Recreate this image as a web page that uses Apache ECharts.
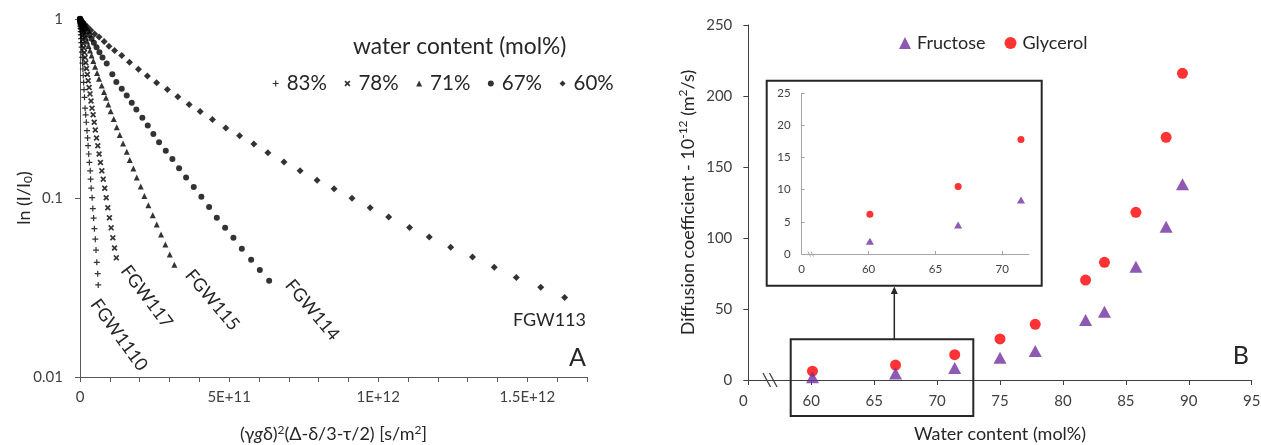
<!DOCTYPE html>
<html><head><meta charset="utf-8">
<script src="https://cdn.jsdelivr.net/npm/echarts@6/dist/echarts.min.js"></script>
<style>html,body{margin:0;padding:0;background:#fff}#c{width:1261px;height:445px}</style>
</head><body><div id="c"></div>
<script>
// ---------- Panel A data: x in units of 1E+11 s/m^2, y = I/I0 ----------
const seriesNamesA = ['83%', '78%', '71%', '67%', '60%'];
const sampleNamesA = ['FGW1110', 'FGW117', 'FGW115', 'FGW114', 'FGW113'];

const x83 = [0, 0.0004, 0.0015, 0.0034, 0.006, 0.0094, 0.0138, 0.0185, 0.0242, 0.0305, 0.0379, 0.0456, 0.0544, 0.0638, 0.0742, 0.0849, 0.0966, 0.109, 0.1225, 0.1362, 0.151, 0.171, 0.191, 0.211, 0.235, 0.255, 0.272, 0.292, 0.315, 0.342, 0.356, 0.376, 0.406, 0.430, 0.456, 0.483, 0.513, 0.537, 0.564, 0.594, 0.611];
const y83 = [1, 0.9975, 0.9900, 0.9779, 0.9607, 0.9398, 0.9124, 0.8841, 0.8507, 0.8161, 0.7770, 0.7379, 0.6960, 0.6535, 0.6101, 0.5672, 0.5256, 0.4836, 0.4421, 0.4032, 0.3650, 0.3176, 0.2916, 0.2649, 0.2379, 0.2165, 0.1960, 0.1761, 0.1580, 0.1418, 0.1274, 0.1134, 0.1004, 0.0873, 0.0772, 0.0674, 0.0589, 0.0512, 0.0437, 0.0378, 0.0327];

const x78 = [0, 0.0008, 0.0031, 0.0068, 0.0122, 0.0191, 0.0274, 0.0372, 0.0487, 0.0617, 0.0762, 0.0923, 0.1097, 0.1289, 0.1493, 0.1715, 0.195, 0.220, 0.247, 0.275, 0.305, 0.336, 0.369, 0.403, 0.440, 0.477, 0.513, 0.554, 0.597, 0.641, 0.685, 0.732, 0.779, 0.829, 0.879, 0.933, 0.987, 1.044, 1.101, 1.158, 1.218];
const y78 = [1, 0.9978, 0.9912, 0.9804, 0.9654, 0.9464, 0.9239, 0.8982, 0.8685, 0.8367, 0.8028, 0.7662, 0.7284, 0.6892, 0.6490, 0.6093, 0.5691, 0.5292, 0.4897, 0.4518, 0.4143, 0.3815, 0.3485, 0.3176, 0.2916, 0.2649, 0.2400, 0.2165, 0.1960, 0.1761, 0.1580, 0.1418, 0.1274, 0.1134, 0.1004, 0.0882, 0.0775, 0.0681, 0.0599, 0.0526, 0.0463];

const x71 = [0, 0.002, 0.008, 0.018, 0.032, 0.049, 0.071, 0.097, 0.127, 0.160, 0.198, 0.240, 0.285, 0.335, 0.388, 0.446, 0.507, 0.572, 0.638, 0.728, 0.805, 0.872, 0.950, 1.030, 1.131, 1.232, 1.332, 1.443, 1.567, 1.668, 1.789, 1.903, 2.037, 2.158, 2.292, 2.440, 2.574, 2.718, 2.862, 3.010, 3.164];
const y71 = [1, 0.9975, 0.9902, 0.9786, 0.9624, 0.9419, 0.9173, 0.8891, 0.8572, 0.8226, 0.7862, 0.7475, 0.7070, 0.6661, 0.6245, 0.5823, 0.5403, 0.4993, 0.4642, 0.4257, 0.3904, 0.3631, 0.3330, 0.3053, 0.2767, 0.2482, 0.2251, 0.2019, 0.1813, 0.1629, 0.1461, 0.1301, 0.1158, 0.1027, 0.0910, 0.0802, 0.0711, 0.0625, 0.0550, 0.0483, 0.0424];

const x67 = [0, 0.0037, 0.0154, 0.0346, 0.0617, 0.0963, 0.138, 0.188, 0.245, 0.312, 0.386, 0.466, 0.554, 0.651, 0.755, 0.896, 1.084, 1.218, 1.399, 1.567, 1.735, 1.889, 2.091, 2.272, 2.460, 2.651, 2.876, 3.097, 3.322, 3.557, 3.815, 4.070, 4.329, 4.587, 4.866, 5.144, 5.426, 5.738, 6.030, 6.342];
const y67 = [1, 0.9974, 0.9897, 0.9776, 0.9607, 0.9386, 0.9135, 0.8843, 0.8518, 0.8151, 0.7760, 0.7369, 0.6952, 0.6527, 0.6094, 0.5640, 0.4910, 0.4443, 0.4080, 0.3741, 0.3405, 0.3121, 0.2805, 0.2538, 0.2279, 0.2047, 0.1837, 0.1649, 0.1468, 0.1301, 0.1153, 0.1017, 0.0890, 0.0775, 0.0681, 0.0599, 0.0520, 0.0452, 0.0396, 0.0345];

const x60 = [0, 0.01, 0.04, 0.09, 0.16, 0.25, 0.36, 0.49, 0.64, 0.81, 0.97, 1.16, 1.40, 1.66, 1.96, 2.26, 2.57, 2.93, 3.28, 3.66, 4.03, 4.44, 4.89, 5.35, 5.83, 6.30, 6.84, 7.38, 7.95, 8.52, 9.12, 9.73, 10.35, 11.05, 11.71, 12.43, 13.16, 13.89, 14.63, 15.45, 16.25];
const y60 = [1, 0.9961, 0.9833, 0.9632, 0.9362, 0.9029, 0.8641, 0.8236, 0.7923, 0.7494, 0.7052, 0.6670, 0.6253, 0.5734, 0.5237, 0.4802, 0.4409, 0.4043, 0.3679, 0.3330, 0.3042, 0.2743, 0.2464, 0.2230, 0.2003, 0.1790, 0.1587, 0.1418, 0.1257, 0.1128, 0.0996, 0.0882, 0.0782, 0.0685, 0.0606, 0.0530, 0.0468, 0.0410, 0.0360, 0.0317, 0.0278];

const xTickValuesA = [0, 5, 10, 15];
const xTickLabelsA = ['0', '5E+11', '1E+12', '1.5E+12'];
const yTickValuesA = [1, 0.1, 0.01];
const yTickLabelsA = ['1', '0.1', '0.01'];

// ---------- Panel B data ----------
const waterContent = [60.1, 66.7, 71.4, 75.0, 77.8, 81.8, 83.3, 85.8, 88.2, 89.5];
const fructose = [2.0, 4.5, 8.4, 15.7, 20.4, 42.3, 48.1, 79.8, 108.0, 137.8];
const glycerol = [6.2, 10.5, 17.8, 28.9, 39.2, 70.4, 82.9, 118.1, 170.9, 216.0];
const insetCount = 3;
const brokenAxisLabel = '0';

// ---------- helpers / styles ----------
const FONT = 'Lato';
const TXT = '#262626', LBL = '#404040', AX = '#595959';
const plusPath = 'path://M2,0H3V2H5V3H3V5H2V3H0V2H2Z';
const crossPath = 'path://M0,1L1,0L2.5,1.5L4,0L5,1L3.5,2.5L5,4L4,5L2.5,3.5L1,5L0,4L1.5,2.5Z';
const pairs = (xs, ys) => xs.map((x, i) => [x, ys[i]]);
const symA = [plusPath, crossPath, 'triangle', 'circle', 'diamond'];
const sizeA = [6, 6, 6, 6, 7];
const xsA = [x83, x78, x71, x67, x60];
const ysA = [y83, y78, y71, y67, y60];

const seriesA = seriesNamesA.map((n, k) => ({
  name: n, type: 'scatter', xAxisIndex: 0, yAxisIndex: 0,
  symbol: symA[k], symbolSize: sizeA[k],
  itemStyle: { color: '#000' }, data: pairs(xsA[k], ysA[k]), clip: false
}));

const chart = echarts.init(document.getElementById('c'), null, { renderer: 'canvas' });

const axisCommon = (color) => ({
  axisLine: { show: true, lineStyle: { color: color, width: 1 } },
  splitLine: { show: false },
  nameMoveOverlap: false
});

const option = {
  animation: false,
  backgroundColor: '#fff',
  grid: [
    { left: 80, top: 19, width: 507, height: 358, containLabel: false, outerBoundsMode: 'none' },
    { left: 748.3, top: 25, width: 503.4, height: 355, containLabel: false, outerBoundsMode: 'none' },
    { left: 801.7, top: 93.3, width: 227.3, height: 160.7, containLabel: false, outerBoundsMode: 'none' }
  ],
  legend: [
    {
      data: seriesNamesA, left: 272.7, top: 73, padding: 0, itemWidth: 6, itemHeight: 6, itemGap: 17.5,
      selectedMode: false, textStyle: { fontSize: 20.5, color: TXT, fontFamily: FONT, padding: [0, 0, 0, 3] }
    },
    {
      data: ['Fructose', 'Glycerol'], left: 899, top: 34, padding: 0, itemWidth: 12, itemHeight: 12, itemGap: 19,
      selectedMode: false, textStyle: { fontSize: 18, color: TXT, fontFamily: FONT, padding: [0, 0, 0, 1] }
    }
  ],
  xAxis: [
    Object.assign(axisCommon(AX), {
      type: 'value', gridIndex: 0, min: 0, max: 17, interval: 1,
      axisTick: { show: true, length: 5, lineStyle: { color: AX } },
      axisLabel: {
        margin: 13, fontSize: 15, color: LBL, fontFamily: FONT,
        formatter: v => { const i = xTickValuesA.indexOf(Math.round(v)); return i < 0 ? '' : xTickLabelsA[i]; }
      },
      name: '(γ{i|g}δ){sup|2}(Δ-δ/3-τ/2) [s/m{sup|2}]', nameLocation: 'middle', nameGap: 47,
      nameTextStyle: {
        fontSize: 18, color: TXT, fontFamily: FONT,
        rich: {
          i: { fontSize: 18, fontStyle: 'italic', fontFamily: FONT, color: TXT },
          sup: { fontSize: 12, padding: [0, 0, 9, 0], fontFamily: FONT, color: TXT }
        }
      }
    }),
    Object.assign(axisCommon(LBL), {
      type: 'value', gridIndex: 1, min: 55, max: 95, interval: 5,
      axisTick: { show: true, length: 5, lineStyle: { color: LBL } },
      axisLabel: {
        margin: 14, fontSize: 15, color: LBL, fontFamily: FONT,
        formatter: v => v === 55 ? '{z|' + brokenAxisLabel + '}' : String(v),
        rich: { z: { fontSize: 15, color: LBL, fontFamily: FONT, padding: [0, 10, 0, 0] } }
      },
      name: 'Water content (mol%)', nameLocation: 'middle', nameGap: 45,
      nameTextStyle: { fontSize: 18, color: TXT, fontFamily: FONT }
    }),
    Object.assign(axisCommon('#A6A6A6'), {
      type: 'value', gridIndex: 2, min: 55, max: 72, interval: 5,
      axisTick: { show: true, inside: true, length: 3, customValues: [60, 65, 70], lineStyle: { color: '#A6A6A6' } },
      axisLabel: {
        margin: 9, fontSize: 11.5, color: LBL, fontFamily: FONT, customValues: [55, 60, 65, 70],
        formatter: v => v === 55 ? brokenAxisLabel : (v % 5 === 0 ? String(v) : '')
      }
    })
  ],
  yAxis: [
    Object.assign(axisCommon(AX), {
      type: 'log', logBase: 10, gridIndex: 0, min: 0.01, max: 1,
      axisTick: { show: true, length: 5, lineStyle: { color: AX } },
      minorTick: { show: false },
      axisLabel: {
        margin: 17, fontSize: 15, color: LBL, fontFamily: FONT,
        formatter: v => { let best = 0; yTickValuesA.forEach((t, i) => { if (Math.abs(Math.log10(v) - Math.log10(t)) < Math.abs(Math.log10(v) - Math.log10(yTickValuesA[best]))) best = i; }); return yTickLabelsA[best]; }
      },
      name: 'ln (I/I{sub|0})', nameLocation: 'middle', nameGap: 46,
      nameTextStyle: {
        fontSize: 18, color: TXT, fontFamily: FONT,
        rich: { sub: { fontSize: 12, padding: [8, 0, 0, 0], fontFamily: FONT, color: TXT } }
      }
    }),
    Object.assign(axisCommon(LBL), {
      type: 'value', gridIndex: 1, min: 0, max: 250, interval: 50,
      axisTick: { show: true, length: 5, lineStyle: { color: LBL } },
      axisLabel: { margin: 16, fontSize: 15, color: LBL, fontFamily: FONT },
      name: 'Diffusion coefficient - 10{sup|-12} (m{sup|2}/s)', nameLocation: 'middle', nameGap: 50,
      nameTextStyle: {
        fontSize: 18, color: TXT, fontFamily: FONT,
        rich: { sup: { fontSize: 12, padding: [0, 0, 9, 0], fontFamily: FONT, color: TXT } }
      }
    }),
    Object.assign(axisCommon('#A6A6A6'), {
      type: 'value', gridIndex: 2, min: 0, max: 25, interval: 5,
      axisTick: { show: true, inside: true, length: 3, lineStyle: { color: '#A6A6A6' } },
      axisLabel: { margin: 11, fontSize: 11.5, color: LBL, fontFamily: FONT }
    })
  ],
  series: seriesA.concat([
    {
      name: 'Fructose', type: 'scatter', xAxisIndex: 1, yAxisIndex: 1, symbol: 'triangle', symbolSize: [13, 12],
      itemStyle: { color: '#7030A0' }, data: pairs(waterContent, fructose), z: 3
    },
    {
      name: 'Glycerol', type: 'scatter', xAxisIndex: 1, yAxisIndex: 1, symbol: 'circle', symbolSize: 11,
      itemStyle: { color: '#FF0000' }, data: pairs(waterContent, glycerol), z: 2
    },
    {
      name: 'Fructose', type: 'scatter', xAxisIndex: 2, yAxisIndex: 2, symbol: 'triangle', symbolSize: [8, 7],
      itemStyle: { color: '#7030A0' }, data: pairs(waterContent.slice(0, insetCount), fructose.slice(0, insetCount))
    },
    {
      name: 'Glycerol', type: 'scatter', xAxisIndex: 2, yAxisIndex: 2, symbol: 'circle', symbolSize: 7,
      itemStyle: { color: '#FF0000' }, data: pairs(waterContent.slice(0, insetCount), glycerol.slice(0, insetCount))
    }
  ]),
  graphic: [
    { type: 'text', x: 353, y: 47, style: { text: 'water content (mol%)', fontSize: 22.8, fontFamily: FONT, fill: TXT, align: 'left', verticalAlign: 'middle' } },
    { type: 'text', x: 119, y: 335, rotation: -54 * Math.PI / 180, style: { text: sampleNamesA[0], fontSize: 18, fontFamily: FONT, fill: TXT, align: 'center', verticalAlign: 'middle' } },
    { type: 'text', x: 146.7, y: 296.7, rotation: -53 * Math.PI / 180, style: { text: sampleNamesA[1], fontSize: 18, fontFamily: FONT, fill: TXT, align: 'center', verticalAlign: 'middle' } },
    { type: 'text', x: 212.3, y: 300, rotation: -50 * Math.PI / 180, style: { text: sampleNamesA[2], fontSize: 18, fontFamily: FONT, fill: TXT, align: 'center', verticalAlign: 'middle' } },
    { type: 'text', x: 312.3, y: 310, rotation: -50 * Math.PI / 180, style: { text: sampleNamesA[3], fontSize: 18, fontFamily: FONT, fill: TXT, align: 'center', verticalAlign: 'middle' } },
    { type: 'text', x: 586, y: 320, style: { text: sampleNamesA[4], fontSize: 18, fontFamily: FONT, fill: TXT, align: 'right', verticalAlign: 'middle' } },
    { type: 'text', x: 586, y: 358, style: { text: 'A', fontSize: 25, fontFamily: FONT, fill: TXT, align: 'right', verticalAlign: 'middle' } },
    { type: 'text', x: 1249, y: 356, style: { text: 'B', fontSize: 25, fontFamily: FONT, fill: TXT, align: 'right', verticalAlign: 'middle' } },
    // inset frame & zoom box & arrow
    { type: 'rect', shape: { x: 766.7, y: 80.7, width: 275, height: 205 }, style: { fill: null, stroke: '#262626', lineWidth: 2 }, z: 10 },
    { type: 'rect', shape: { x: 790.7, y: 339.3, width: 182.6, height: 76.7 }, style: { fill: null, stroke: '#262626', lineWidth: 2 }, z: 10 },
    { type: 'line', shape: { x1: 894.3, y1: 339, x2: 894.3, y2: 293 }, style: { stroke: '#262626', lineWidth: 1.5 }, z: 10 },
    { type: 'polygon', shape: { points: [[894.3, 286.5], [890.8, 294], [897.8, 294]] }, style: { fill: '#262626' }, z: 10 },
    // axis break marks
    { type: 'line', shape: { x1: 763, y1: 373, x2: 770.5, y2: 387 }, style: { stroke: LBL, lineWidth: 1.3 }, z: 10 },
    { type: 'line', shape: { x1: 769.5, y1: 373, x2: 777, y2: 387 }, style: { stroke: LBL, lineWidth: 1.3 }, z: 10 },
    { type: 'line', shape: { x1: 808, y1: 251.5, x2: 810.5, y2: 256.5 }, style: { stroke: '#A6A6A6', lineWidth: 1 }, z: 10 },
    { type: 'line', shape: { x1: 811, y1: 251.5, x2: 813.5, y2: 256.5 }, style: { stroke: '#A6A6A6', lineWidth: 1 }, z: 10 }
  ]
};
chart.setOption(option);
</script></body></html>
